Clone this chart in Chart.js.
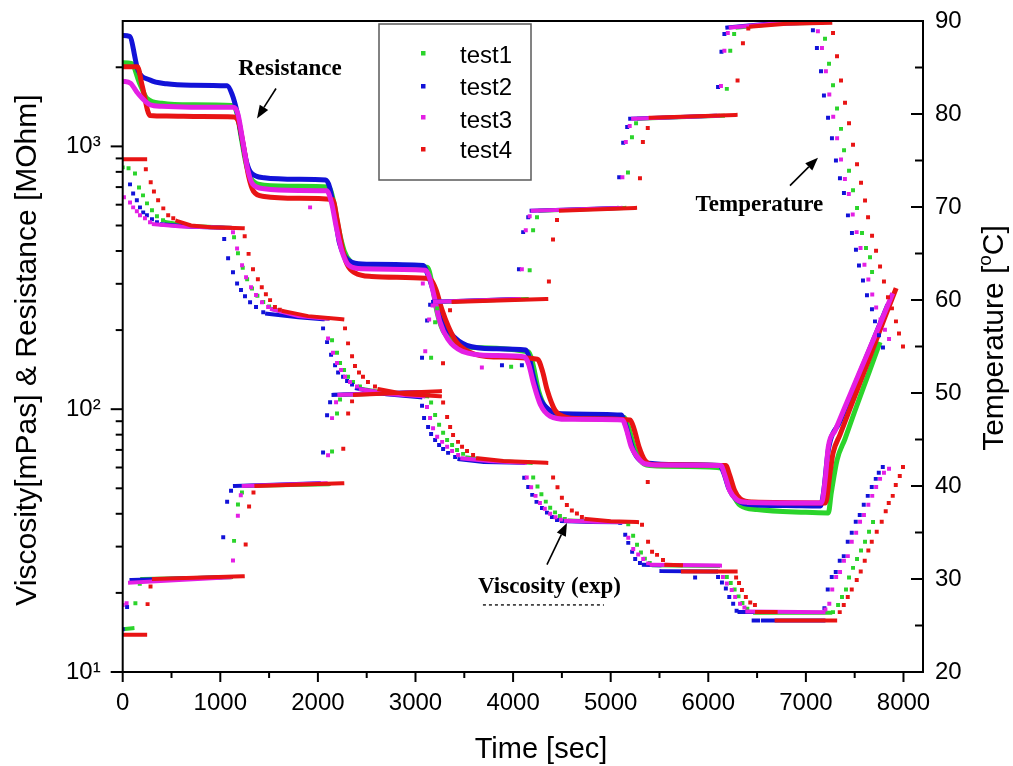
<!DOCTYPE html>
<html>
<head>
<meta charset="utf-8">
<title>Viscosity, resistance and temperature vs time</title>
<script src="https://cdn.jsdelivr.net/npm/chart.js@4/dist/chart.umd.min.js"></script>
<style>
  html, body { margin: 0; padding: 0; background: #ffffff; }
  canvas { display: block; }
</style>
</head>
<body>
<canvas id="chart" width="1013" height="766"></canvas>
<script>
// ---------- data: time [s] against measured values ----------
const testLabels = ['test1', 'test2', 'test3', 'test4'];
const testColors = ['#2bd42b', '#1212d8', '#e41fe4', '#e81414'];
const xTickValues = [0, 500, 1000, 1500, 2000, 2500, 3000, 3500, 4000, 4500, 5000, 5500, 6000, 6500, 7000, 7500, 8000];
const xTickLabels = [0, 1000, 2000, 3000, 4000, 5000, 6000, 7000, 8000];
const logTickLabels = { 10: '10\u00B9', 100: '10\u00B2', 1000: '10\u00B3' };
const tempTickValues = [20, 25, 30, 35, 40, 45, 50, 55, 60, 65, 70, 75, 80, 85, 90];
const tempTickLabels = [20, 30, 40, 50, 60, 70, 80, 90];

// Resistance [MOhm], left axis
const resistance1 = [[0,2080],[90,2070],[170,1750],[250,1520],[400,1460],[700,1440],[1120,1430],[1170,1340],[1220,1050],[1270,840],[1330,740],[1450,712],[1800,705],[2110,700],[2160,620],[2210,490],[2270,400],[2340,362],[2450,350],[3120,347],[3170,300],[3220,235],[3280,200],[3380,182],[3550,172],[4160,165],[4200,150],[4260,118],[4330,102],[4450,96],[4700,94],[5140,93],[5180,86],[5240,72],[5300,64],[5400,61],[5800,60.5],[6160,59.5],[6200,55],[6260,47],[6330,43],[6500,41.5],[7000,40.5],[7230,40.3],[7260,48],[7319,64],[7400,77],[7500,98],[7650,139],[7760,180]];
const resistance2 = [[0,2640],[70,2620],[157,1950],[280,1790],[450,1730],[700,1710],[1070,1700],[1120,1580],[1170,1360],[1220,1080],[1270,870],[1320,790],[1450,760],[1800,750],[2080,745],[2120,700],[2170,560],[2220,430],[2280,380],[2350,362],[2500,356],[3080,352],[3120,330],[3180,284],[3250,224],[3355,195],[3525,175],[3800,170],[4130,168],[4170,155],[4200,137],[4270,111],[4375,99],[4500,96],[5110,95],[5150,88],[5190,78],[5230,70],[5300,64],[5450,62],[5800,61.5],[6120,61],[6160,57],[6210,50],[6270,46],[6400,43.5],[6800,43],[7150,42.8],[7180,48],[7230,70],[7350,90],[7500,123],[7650,168],[7840,250]];
const resistance3 = [[0,1770],[80,1740],[150,1600],[280,1440],[400,1420],[700,1410],[1130,1408],[1180,1330],[1230,1050],[1280,820],[1330,720],[1450,690],[1800,680],[2090,678],[2140,610],[2190,490],[2250,395],[2320,352],[2450,342],[3100,338],[3140,320],[3190,270],[3250,215],[3330,185],[3480,166],[3800,160],[4120,158],[4160,148],[4210,125],[4280,104],[4380,94],[4550,91.5],[5120,91],[5160,84],[5210,72],[5270,66],[5350,62],[5500,61.3],[6130,61],[6170,56],[6220,49],[6290,45.3],[6400,44.2],[7160,44],[7200,55],[7230,72],[7300,83],[7400,102],[7600,153],[7750,207],[7890,276]];
const resistance4 = [[0,2010],[150,2010],[200,1700],[280,1312],[450,1305],[800,1300],[1140,1295],[1190,1230],[1240,990],[1290,770],[1340,675],[1450,645],[1800,635],[2150,628],[2200,520],[2250,410],[2300,355],[2380,330],[2550,320],[3100,315],[3160,310],[3210,285],[3270,240],[3340,205],[3420,180],[3550,165],[3800,158],[4250,155],[4300,140],[4350,118],[4430,99],[4510,94],[4700,92],[5200,91],[5240,84],[5290,72],[5350,64],[5450,61.5],[6180,61],[6220,56],[6270,49],[6330,45.5],[6450,44.3],[7200,44],[7250,58],[7278,68],[7350,80],[7450,100],[7650,156],[7800,219],[7925,289]];
// isolated resistance readings
const resistanceStray1 = [[3980,145]];
const resistanceStray2 = [[3886,147],[4090,147]];
const resistanceStray3 = [[1920,586],[3075,301],[3680,144]];
const resistanceStray4 = [[5380,52.8]];

// Temperature [°C], right axis: held levels and readings while the bath changes
const temperatureRuns1 = [[[0,24.6],[100,24.7]],[[200,30.0],[1110,30.2]],[[1250,40.0],[2110,40.2]],[[2260,49.8],[3130,50.1]],[[3250,59.8],[4140,60.1]],[[4280,69.6],[5140,69.9]],[[5290,79.5],[6150,79.8]],[[6300,89.3],[6700,89.7],[7160,89.8]]];
const temperaturePoints1 = [[130,27.4],[175,29.5],[1141,34.1],[1181,38.0],[1222,39.3],[2145,43.7],[2196,47.8],[2227,49.3],[3160,53.8],[3201,57.6],[3222,59.1],[4170,63.2],[4205,67.5],[4245,68.9],[5177,73.7],[5218,77.5],[5260,79.0],[6190,82.7],[6225,86.8],[6265,88.6],[7196,88.1],[7237,85.4],[7278,83.1],[7319,80.6],[7360,78.4],[7391,76.1],[7442,73.9],[7483,71.8],[7524,69.9],[7575,67.2],[7616,65.6],[7657,64.6],[7678,63.0]];
const temperatureRuns2 = [[[90,29.9],[1010,30.2]],[[1150,40.0],[2010,40.3]],[[2160,49.8],[3040,50.1]],[[3180,59.8],[4030,60.1]],[[4190,69.6],[5060,69.9]],[[5200,79.5],[6070,79.8]],[[6195,89.3],[6600,89.7],[7040,89.8]]];
const temperaturePoints2 = [[0,24.6],[45,27.0],[1030,34.5],[1070,38.3],[1110,39.5],[2053,43.6],[2094,47.6],[2125,49.0],[3067,53.8],[3119,57.8],[3150,59.5],[4060,63.3],[4103,67.3],[4155,68.9],[5087,73.2],[5128,76.9],[5169,78.6],[6100,82.9],[6135,86.7],[6165,88.6],[7072,89.0],[7113,87.1],[7155,84.6],[7185,82.0],[7227,79.6],[7267,77.4],[7308,75.0],[7349,73.1],[7390,71.5],[7431,69.1],[7472,67.2],[7513,65.4],[7544,63.7],[7585,62.1],[7626,60.5],[7677,59.0],[7708,57.7],[7749,56.2],[7790,54.9]];
const temperatureRuns3 = [[[75,29.6],[1100,30.2]],[[1240,40.0],[2080,40.3]],[[2220,49.8],[3090,50.1]],[[3200,59.8],[4060,60.1]],[[4200,69.6],[5100,69.9]],[[5230,79.5],[6100,79.8]],[[6230,89.3],[6650,89.7],[7090,89.8]]];
const temperaturePoints3 = [[0,27.2],[40,27.4],[1130,32.0],[1180,36.8],[1210,39.0],[2104,43.3],[2145,47.3],[2186,49.0],[3100,54.5],[3140,57.9],[3175,59.4],[4090,63.3],[4130,67.5],[4170,69.0],[5120,73.2],[5155,77.0],[5195,78.7],[6130,83.0],[6165,86.8],[6200,88.7],[7123,88.9],[7165,87.1],[7205,84.6],[7240,82.1],[7280,79.7],[7320,77.4],[7360,75.1],[7400,73.0],[7440,71.4],[7480,69.2],[7520,67.3],[7560,65.6],[7600,63.8],[7640,62.2],[7680,60.6],[7720,59.2],[7765,57.9],[7810,56.8],[7852,55.8]];
const temperatureRuns4 = [[[0,24.0],[230,24.0]],[[320,30.0],[1230,30.3]],[[1370,40.0],[2250,40.3]],[[2380,49.8],[3250,50.2]],[[3390,59.8],[4340,60.1]],[[4490,69.6],[5250,69.9]],[[5410,79.6],[6280,79.9]],[[6440,89.4],[6800,89.7],[7250,89.8]]];
const temperaturePoints4 = [[255,27.3],[285,29.2],[1260,33.7],[1295,37.8],[1340,39.3],[2260,44.0],[2310,47.8],[2350,49.1],[3282,53.2],[3354,58.9],[4367,62.0],[4409,66.5],[4450,68.6],[5300,73.1],[5330,77.0],[5380,78.5],[6300,83.6],[6355,87.6],[6410,89.2],[7278,88.7],[7319,86.2],[7360,83.6],[7401,81.2],[7442,79.0],[7483,76.7],[7524,74.6],[7565,72.6],[7606,70.7],[7637,68.9],[7678,66.9],[7719,65.3],[7760,63.6],[7800,62.0],[7841,60.3],[7882,59.1],[7923,57.7],[7954,56.4],[7995,55.0]];

// Viscosity [mPas], left axis: settled levels and readings in between
const viscosityRuns1 = [[[450,515],[700,498],[1100,490]],[[1540,240],[1800,226],[2100,221]],[[2470,119],[2780,114],[3120,112]],[[3530,65.5],[3800,63.5],[4180,62.5]],[[4580,37.7],[4900,37.3],[5170,37.2]],[[5440,25.5],[6100,25.3]],[[6480,16.8],[7250,16.8]]];
const viscosityPoints1 = [[0,832],[60,826],[126,789],[167,698],[208,651],[249,607],[300,571],[351,542],[413,524],[1141,451],[1181,392],[1230,345],[1275,312],[1325,288],[1380,270],[1440,256],[1500,246],[2145,183],[2196,164],[2227,150],[2268,141],[2309,133],[2360,127],[2431,122],[3160,106],[3201,95.1],[3242,87.2],[3283,81.3],[3324,76.4],[3375,73.1],[3426,69.9],[3488,67.6],[4206,55],[4250,50.8],[4290,47.5],[4335,44.5],[4380,42.2],[4430,40.5],[4480,39.2],[4530,38.2],[5180,36.5],[5230,33],[5270,30.5],[5310,28.5],[5350,27],[5400,26],[6190,23.0],[6230,21.8],[6270,20.6],[6310,19.4],[6350,18.3],[6400,17.4],[6460,16.9],[7278,16.9],[7330,18.0],[7370,19.3],[7411,20.6],[7442,22.9],[7483,24.9],[7524,26.9],[7565,29.0],[7606,31.3],[7647,34.2],[7688,37.2]];
const viscosityRuns2 = [[[400,505],[700,495],[1030,490]],[[1480,231],[1800,224],[2050,220]],[[2400,120],[2700,114],[3050,111]],[[3450,64.5],[3700,63],[4100,62.5]],[[4500,37.5],[4800,37.2],[5090,37.1]],[[5340,25.6],[5500,25.5]],[[5520,24.2],[6080,24.1]],[[6320,16.9],[6450,16.9]],[[6465,15.7],[6510,15.7]],[[6560,15.7],[7180,15.7]]];
const viscosityPoints2 = [[75,717],[107,662],[145,624],[177,586],[210,561],[248,547],[300,528],[351,514],[1040,444],[1080,375],[1130,332],[1172,301],[1212,284],[1253,269],[1305,255],[1366,245],[1440,234],[2053,203],[2094,180],[2135,161],[2176,147],[2207,138],[2258,133],[2299,128],[2350,124],[3067,103],[3088,92.6],[3129,85.6],[3160,80.5],[3201,76.4],[3242,73.1],[3283,70.6],[3334,68.2],[3406,65.8],[4114,54.8],[4155,50.6],[4196,47.2],[4240,44.4],[4296,42.1],[4347,40.4],[4398,38.9],[4450,37.9],[5098,37],[5149,33.3],[5180,31.0],[5220,28.7],[5251,26.9],[5300,26.0],[5865,22.9],[6100,23.0],[6140,21.9],[6180,20.8],[6215,19.3],[6255,18.2],[6290,17.1],[7190,17.5],[7224,20.6],[7265,23.0],[7306,24.0],[7347,26.5],[7388,27.6],[7429,31.3],[7470,33.9],[7511,37.3],[7552,39.6],[7593,43.3],[7634,46.8],[7675,50.6],[7716,54.3],[7747,57.3],[7788,60.3]];
const viscosityRuns3 = [[[320,506],[600,496],[1100,490]],[[1530,240],[1800,226],[2100,221]],[[2440,119],[2750,114],[3080,112]],[[3480,65.0],[3750,63.5],[4120,62.5]],[[4540,37.6],[4850,37.3],[5130,37.2]],[[5420,25.6],[6120,25.4]],[[6400,17.0],[7180,16.9]]];
const viscosityPoints3 = [[13,640],[75,612],[107,586],[145,566],[177,547],[228,533],[280,514],[1130,471],[1172,409],[1223,353],[1264,318],[1315,291],[1366,272],[1427,255],[1490,245],[2104,186],[2155,164],[2196,150],[2237,141],[2278,133],[2329,127],[2401,122],[3118,102],[3149,92.6],[3180,84.7],[3222,78.5],[3273,75.1],[3324,71.9],[3375,69.3],[3437,66.9],[4140,55],[4185,50.5],[4230,46.8],[4275,44],[4325,41.8],[4380,40.0],[4435,38.8],[4490,38.0],[5180,32.4],[5231,29.4],[5282,28.0],[5333,26.9],[5384,25.9],[6150,23.0],[6190,21.7],[6240,20.5],[6275,19.3],[6325,18.2],[6370,17.6],[7200,17.3],[7240,18.2],[7270,20.6],[7310,23.0],[7350,24.0],[7390,26.5],[7430,27.6],[7470,31.3],[7515,33.9],[7555,37.3],[7595,39.6],[7640,43.3],[7680,46.8],[7720,50.6],[7760,54.3],[7800,57.3],[7852,59.3]];
const viscosityRuns4 = [[[0,893],[230,893]],[[560,520],[700,500],[900,492],[1230,488]],[[1650,236],[1900,226],[2250,220]],[[2630,119],[2900,114],[3250,112]],[[3640,65],[3900,63.5],[4340,62.5]],[[4750,38.2],[5000,37.5],[5270,37.2]],[[5570,25.6],[5720,25.5]],[[5740,24.1],[6280,24.1]],[[6500,16.9],[6690,16.9]],[[6700,15.7],[7300,15.7]]];
const viscosityPoints4 = [[237,818],[287,730],[320,674],[363,624],[416,581],[466,547],[518,533],[1250,455],[1290,390],[1335,341],[1385,312],[1425,291],[1467,274],[1510,260],[1560,245],[1610,239],[2278,203],[2309,178],[2350,159],[2380,146],[2421,138],[2462,133],[2513,127],[2585,122],[3283,106],[3324,93.4],[3355,85.6],[3385,79.7],[3436,75.1],[3477,71.9],[3528,69.3],[3590,66.9],[4410,55],[4455,50.5],[4500,46.0],[4551,43.2],[4602,41.2],[4654,40.1],[4705,38.9],[5321,36.3],[5383,31.3],[5424,28.7],[5475,27.9],[5536,26.7],[6285,22.9],[6315,21.8],[6345,20.5],[6385,19.3],[6430,18.4],[6478,18.0],[7347,16.9],[7388,18.0],[7429,19.3],[7470,20.6],[7521,22.4],[7562,24.1],[7603,26.5],[7640,29.0],[7675,31.3],[7726,34.2],[7777,37.3],[7818,40.9],[7849,44.0],[7890,46.8],[7921,51.5],[7962,55.7],[7995,60.3]];

// ---------- annotation anchors (data coordinates) ----------
const notes = [
  { text: 'Resistance', x: 1714, y: 1861, axis: 'y' },
  { text: 'Temperature', x: 6524, y: 69.6, axis: 'y2' },
  { text: 'Viscosity (exp)', x: 4373, y: 20.0, axis: 'y' }
];
const arrows = [
  { from: [1571, 1661], to: [1376, 1278], axis: 'y' },
  { from: [6837, 72.3], to: [7124, 75.3], axis: 'y2' },
  { from: [4347, 25.6], to: [4552, 36.9], axis: 'y' }
];
const dottedRule = { x0: 3691, x1: 4931, y: 18.0 };

// ---------- helpers ----------
const SANS = '"Liberation Sans", Arial, Helvetica, sans-serif';
const SERIF = '"Liberation Serif", "Times New Roman", serif';
const toPoints = arr => arr.map(([x, y]) => ({ x, y }));
function runsToLine(runs) {
  const out = [];
  runs.forEach((run, i) => {
    if (i > 0) out.push({ x: run[0][0], y: null });
    run.forEach(([x, y]) => out.push({ x, y }));
  });
  return out;
}

const tests = [
  { res: resistance1, stray: resistanceStray1, tRuns: temperatureRuns1, tPts: temperaturePoints1, vRuns: viscosityRuns1, vPts: viscosityPoints1 },
  { res: resistance2, stray: resistanceStray2, tRuns: temperatureRuns2, tPts: temperaturePoints2, vRuns: viscosityRuns2, vPts: viscosityPoints2 },
  { res: resistance3, stray: resistanceStray3, tRuns: temperatureRuns3, tPts: temperaturePoints3, vRuns: viscosityRuns3, vPts: viscosityPoints3 },
  { res: resistance4, stray: resistanceStray4, tRuns: temperatureRuns4, tPts: temperaturePoints4, vRuns: viscosityRuns4, vPts: viscosityPoints4 }
];

// stacking: resistance traces underneath, sampled readings above; later entries on top
const datasets = [];
let layer = 0;
function add(ds) { ds.order = 1000 - layer++; datasets.push(ds); }

[0, 1, 3, 2].forEach(i => {
  const c = testColors[i];
  add({ label: testLabels[i], data: toPoints(tests[i].res), yAxisID: 'y', showLine: true,
        borderColor: c, borderWidth: 5, pointRadius: 0, cubicInterpolationMode: 'monotone' });
  add({ label: testLabels[i], data: toPoints(tests[i].stray), yAxisID: 'y', showLine: false,
        pointStyle: 'rect', pointRadius: 2.8, pointBackgroundColor: c, pointBorderWidth: 0 });
});
[0, 1, 2, 3].forEach(i => {
  const c = testColors[i];
  const lineStyle = { showLine: true, borderColor: c, borderWidth: 4, pointRadius: 0,
                      spanGaps: false, borderCapStyle: 'square' };
  const dotStyle = { showLine: false, pointStyle: 'rect', pointRadius: 2.8,
                     pointBackgroundColor: c, pointBorderWidth: 0 };
  add(Object.assign({ label: testLabels[i], data: runsToLine(tests[i].vRuns), yAxisID: 'y' }, lineStyle));
  add(Object.assign({ label: testLabels[i], data: toPoints(tests[i].vPts), yAxisID: 'y' }, dotStyle));
  add(Object.assign({ label: testLabels[i], data: runsToLine(tests[i].tRuns), yAxisID: 'y2' }, lineStyle));
  add(Object.assign({ label: testLabels[i], data: toPoints(tests[i].tPts), yAxisID: 'y2' }, dotStyle));
});

// ---------- plugin: frame, tick marks, titles, legend and notes ----------
function isPow10(v) { const e = Math.log10(v); return Math.abs(e - Math.round(e)) < 1e-9; }
function isWholeMultiple(v) {
  const m = v / Math.pow(10, Math.floor(Math.log10(v) + 1e-9));
  return Math.abs(m - Math.round(m)) < 1e-6;
}

const decor = {
  id: 'decor',
  afterDatasetsDraw(chart) {
    const { ctx, chartArea: a, scales } = chart;
    const sx = scales.x, sy = scales.y, sr = scales.y2;
    ctx.save();
    ctx.strokeStyle = '#000';
    ctx.lineWidth = 2;
    ctx.strokeRect(a.left, a.top, a.right - a.left, a.bottom - a.top);

    const seg = (x0, y0, x1, y1) => { ctx.beginPath(); ctx.moveTo(x0, y0); ctx.lineTo(x1, y1); ctx.stroke(); };
    sx.ticks.forEach(t => {
      const p = sx.getPixelForValue(t.value);
      seg(p, a.bottom, p, a.bottom + (t.value % 1000 === 0 ? 10 : 6));
    });
    sy.ticks.forEach(t => {
      if (t.value >= sy.max || !isWholeMultiple(t.value)) return;
      const p = sy.getPixelForValue(t.value);
      seg(a.left - (isPow10(t.value) ? 12 : 7), p, a.left, p);
    });
    sr.ticks.forEach(t => {
      if (t.value <= sr.min || t.value >= sr.max) return;
      const p = sr.getPixelForValue(t.value);
      seg(a.right - (t.value % 10 === 0 ? 12 : 8), p, a.right, p);
    });

    // axis titles
    ctx.fillStyle = '#000';
    ctx.textBaseline = 'alphabetic';
    ctx.font = '29px ' + SANS;
    ctx.textAlign = 'center';
    ctx.fillText('Time [sec]', 541, 758);

    ctx.save();
    ctx.translate(36, 350);
    ctx.rotate(-Math.PI / 2);
    ctx.font = '30px ' + SANS;
    ctx.textAlign = 'center';
    ctx.fillText('Viscosity[mPas] & Resistance [MOhm]', 0, 0);
    ctx.restore();

    ctx.save();
    ctx.translate(1003, 338);
    ctx.rotate(-Math.PI / 2);
    ctx.textAlign = 'left';
    const big = '30px ' + SANS, small = '19px ' + SANS;
    ctx.font = big; const w1 = ctx.measureText('Temperature [').width;
    ctx.font = small; const w2 = ctx.measureText('o').width;
    ctx.font = big; const w3 = ctx.measureText('C]').width;
    let x = -(w1 + w2 + w3) / 2;
    ctx.font = big; ctx.fillText('Temperature [', x, 0); x += w1;
    ctx.font = small; ctx.fillText('o', x, -12); x += w2;
    ctx.font = big; ctx.fillText('C]', x, 0);
    ctx.restore();

    // legend
    ctx.lineWidth = 1.5;
    ctx.strokeStyle = '#5a5a5a';
    ctx.strokeRect(379, 24, 152, 156);
    const rowsMarker = [53, 86, 117, 149];
    const rowsText = [63, 95, 127.5, 158];
    ctx.font = '24px ' + SANS;
    ctx.textAlign = 'left';
    testLabels.forEach((lab, i) => {
      ctx.fillStyle = testColors[i];
      ctx.fillRect(421, rowsMarker[i] - 2, 4.5, 4.5);
      ctx.fillStyle = '#000';
      ctx.fillText(lab, 460, rowsText[i]);
    });

    // notes and arrows
    ctx.font = 'bold 23px ' + SERIF;
    ctx.textAlign = 'center';
    ctx.fillStyle = '#000';
    notes.forEach(n => {
      ctx.fillText(n.text, sx.getPixelForValue(n.x), scales[n.axis].getPixelForValue(n.y));
    });
    ctx.strokeStyle = '#000';
    ctx.lineWidth = 1.6;
    arrows.forEach(ar => {
      const s = scales[ar.axis];
      const x0 = sx.getPixelForValue(ar.from[0]), y0 = s.getPixelForValue(ar.from[1]);
      const x1 = sx.getPixelForValue(ar.to[0]), y1 = s.getPixelForValue(ar.to[1]);
      const ang = Math.atan2(y1 - y0, x1 - x0);
      const L = 13, W = 5;
      const bx = x1 - L * Math.cos(ang), by = y1 - L * Math.sin(ang);
      seg(x0, y0, bx, by);
      ctx.beginPath();
      ctx.moveTo(x1, y1);
      ctx.lineTo(bx + W * Math.sin(ang), by - W * Math.cos(ang));
      ctx.lineTo(bx - W * Math.sin(ang), by + W * Math.cos(ang));
      ctx.closePath();
      ctx.fill();
    });
    ctx.setLineDash([3, 3]);
    ctx.lineWidth = 1.5;
    ctx.strokeStyle = '#222';
    const ry = sy.getPixelForValue(dottedRule.y);
    seg(sx.getPixelForValue(dottedRule.x0), ry, sx.getPixelForValue(dottedRule.x1), ry);
    ctx.restore();
  }
};

// scales keep fixed box sizes and no extra padding for edge labels
function noEdgePadding(s) { s.paddingTop = 0; s.paddingBottom = 0; s.paddingLeft = 0; s.paddingRight = 0; }

const tickFont = { family: SANS, size: 24 };
new Chart(document.getElementById('chart'), {
  type: 'scatter',
  data: { datasets },
  options: {
    responsive: false,
    animation: false,
    events: [],
    devicePixelRatio: 1,
    layout: { padding: { top: 21, left: 0, right: 0, bottom: 0 } },
    plugins: { legend: { display: false }, tooltip: { enabled: false } },
    scales: {
      x: {
        type: 'linear', position: 'bottom', min: 0, max: 8200,
        grid: { display: false, drawTicks: false }, border: { display: false },
        ticks: { autoSkip: false, maxRotation: 0, minRotation: 0, color: '#000', font: tickFont, padding: 17,
                 callback: v => xTickLabels.includes(v) ? String(v) : '' },
        afterBuildTicks: s => { s.ticks = xTickValues.map(value => ({ value })); },
        afterFit: s => { s.height = 94; noEdgePadding(s); }
      },
      y: {
        type: 'logarithmic', position: 'left', min: 10, max: 3000,
        grid: { display: false, drawTicks: false }, border: { display: false },
        ticks: { autoSkip: false, color: '#000', font: tickFont, padding: 22,
                 callback: v => logTickLabels[v] || '' },
        afterFit: s => { s.width = 122.7; noEdgePadding(s); }
      },
      y2: {
        type: 'linear', position: 'right', min: 20, max: 90,
        grid: { display: false, drawTicks: false }, border: { display: false },
        ticks: { autoSkip: false, color: '#000', font: tickFont, padding: 12,
                 callback: v => tempTickLabels.includes(v) ? String(v) : '' },
        afterBuildTicks: s => { s.ticks = tempTickValues.map(value => ({ value })); },
        afterFit: s => { s.width = 90; noEdgePadding(s); }
      }
    }
  },
  plugins: [decor]
});
</script>
</body>
</html>
